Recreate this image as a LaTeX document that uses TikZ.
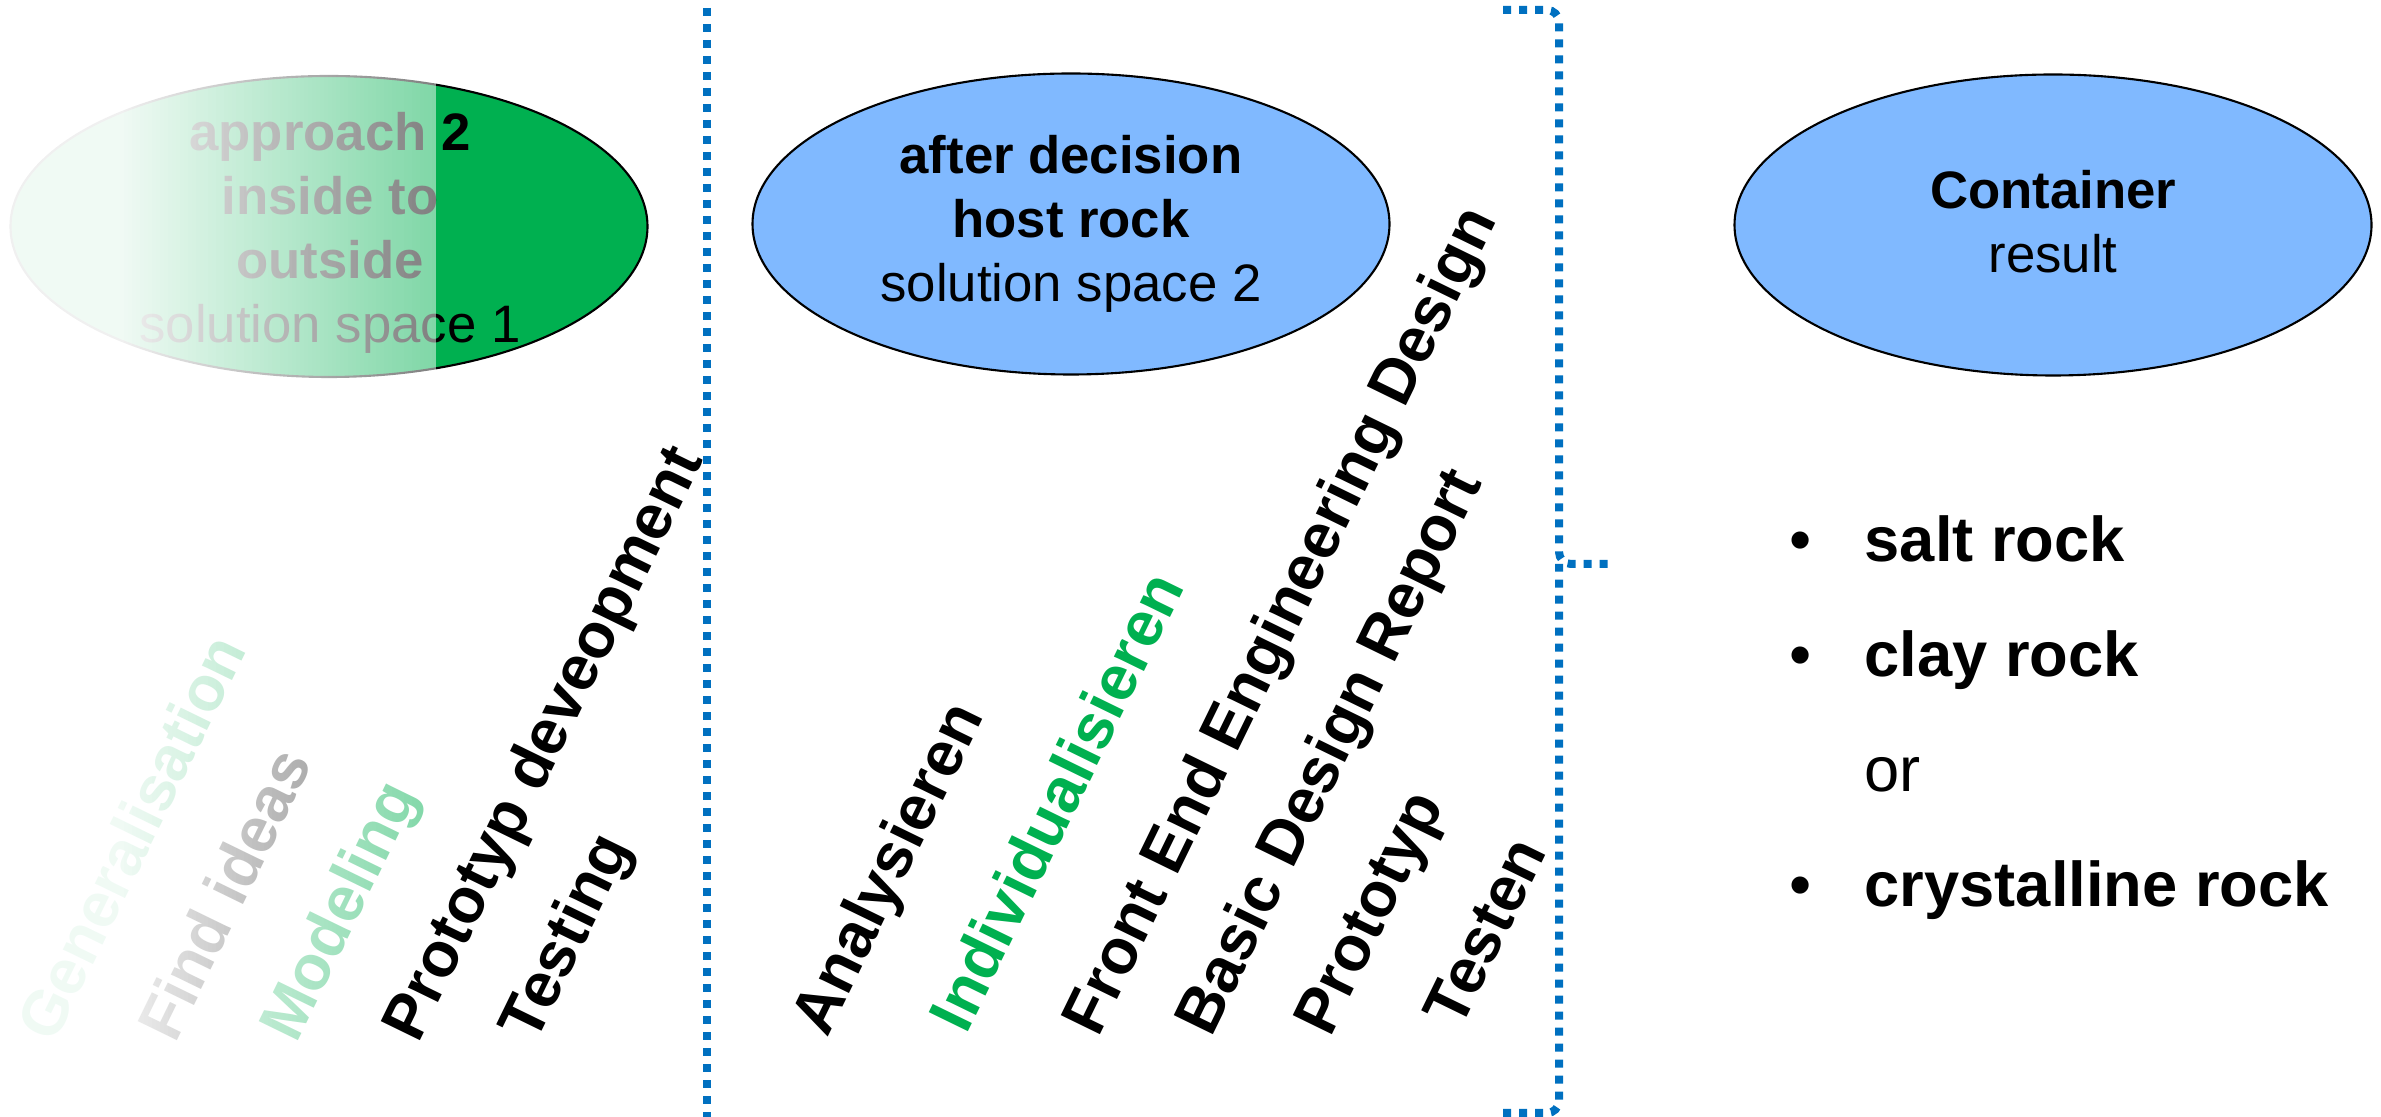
\documentclass[tikz,border=0pt]{standalone}
\usepackage{fontspec}
\setmainfont{Liberation Sans}
\usetikzlibrary{shapes.geometric}

\definecolor{leafgreen}{RGB}{0,176,80}
\definecolor{skyblue}{RGB}{128,185,255}
\definecolor{lineblue}{RGB}{0,112,192}

\begin{document}
\begin{tikzpicture}[
  oval/.style={ellipse, draw=black, line width=0.6pt, minimum width=6.37cm, minimum height=3.01cm, inner sep=0pt},
  ovaltext/.style={align=center, font=\fontsize{15}{18.2}\selectfont},
  steptext/.style={rotate=64, anchor=base west, inner sep=0pt, font=\bfseries\fontsize{18}{21.6}\selectfont},
  itemtext/.style={anchor=base west, inner sep=0pt, font=\bfseries\fontsize{18}{21.6}\selectfont},
  bullet/.style={anchor=base, inner sep=0pt, font=\fontsize{18}{21.6}\selectfont},
  dotline/.style={draw=lineblue, line width=0.08cm, dash pattern=on 0.08cm off 0.08cm}
]
\useasboundingbox (0,0) rectangle (23.81,11.17);

% solution space 1
\node[oval, fill=leafgreen] (sol1) at (3.29,8.905) {};
\node[ovaltext] (sol1txt) at (3.30,8.845) {\textbf{approach 2}\\ \textbf{inside to}\\ \textbf{outside}\\ solution space 1};

\node[steptext, text=leafgreen] (gen) at (0.54,0.72) {Generalisation};
\node[steptext] (ideas) at (1.75,0.72) {Find ideas};
\node[steptext, text=leafgreen] (model) at (2.96,0.72) {Modeling};
\node[steptext] (proto1) at (4.18,0.72) {Prototyp deveopment};
\node[steptext] (test1) at (5.35,0.72) {Testing};

% white fade over the left part, in thin strips
\begin{scope}
  \clip (0,0) -- (2.94,0) -- (4.36,2.91) -- (4.36,11.17) -- (0,11.17) -- cycle;
  \foreach \i [evaluate=\i as \op using {min(0.94,1.11-0.14*(\i*0.04+0.02))}] in {0,...,108}
    \fill[white, fill opacity=\op] ({\i*0.04},0) rectangle ({\i*0.04+0.04},11.17);
\end{scope}

% separator
\coordinate (sepTop) at (7.07,11.09);
\coordinate (sepBot) at (7.07,0);
\draw[dotline] (sepTop) -- (sepBot);

% solution space 2
\node[oval, fill=skyblue] (sol2) at (10.71,8.93) {};
\node[ovaltext] (sol2txt) at (sol2) {\textbf{after decision}\\ \textbf{host rock}\\ solution space 2};

\node[steptext] (anal) at (8.27,0.78) {Analysieren};
\node[steptext, text=leafgreen] (indiv) at (9.66,0.81) {Individualisieren};
\node[steptext] (feed) at (10.98,0.78) {Front End Engineering Design};
\node[steptext] (bdr) at (12.11,0.78) {Basic Design Report};
\node[steptext] (proto2) at (13.30,0.78) {Prototyp};
\node[steptext] (test2) at (14.60,0.86) {Testen};

% bracket
\coordinate (brTop) at (15.03,11.07);
\coordinate (brMid) at (15.59,5.53);
\coordinate (brTip) at (16.11,5.53);
\coordinate (brBot) at (15.03,0.04);
\draw[dotline, rounded corners=0.12cm] (brTop) -| (brMid) -- (brTip);
\draw[dotline, rounded corners=0.12cm] (brBot) -| (brMid);

% result
\node[oval, fill=skyblue] (res) at (20.53,8.92) {};
\node[ovaltext] (restxt) at (20.53,8.95) {\textbf{Container}\\ result};

\node[bullet] (b1) at (18.01,5.55) {\textbullet};
\node[itemtext] (salt) at (18.64,5.55) {salt rock};
\node[bullet] (b2) at (18.01,4.40) {\textbullet};
\node[itemtext] (clay) at (18.64,4.40) {clay rock};
\node[itemtext, font=\fontsize{18}{21.6}\selectfont] (orr) at (18.64,3.25) {or};
\node[bullet] (b3) at (18.01,2.10) {\textbullet};
\node[itemtext] (cryst) at (18.64,2.10) {crystalline rock};

\end{tikzpicture}
\end{document}
